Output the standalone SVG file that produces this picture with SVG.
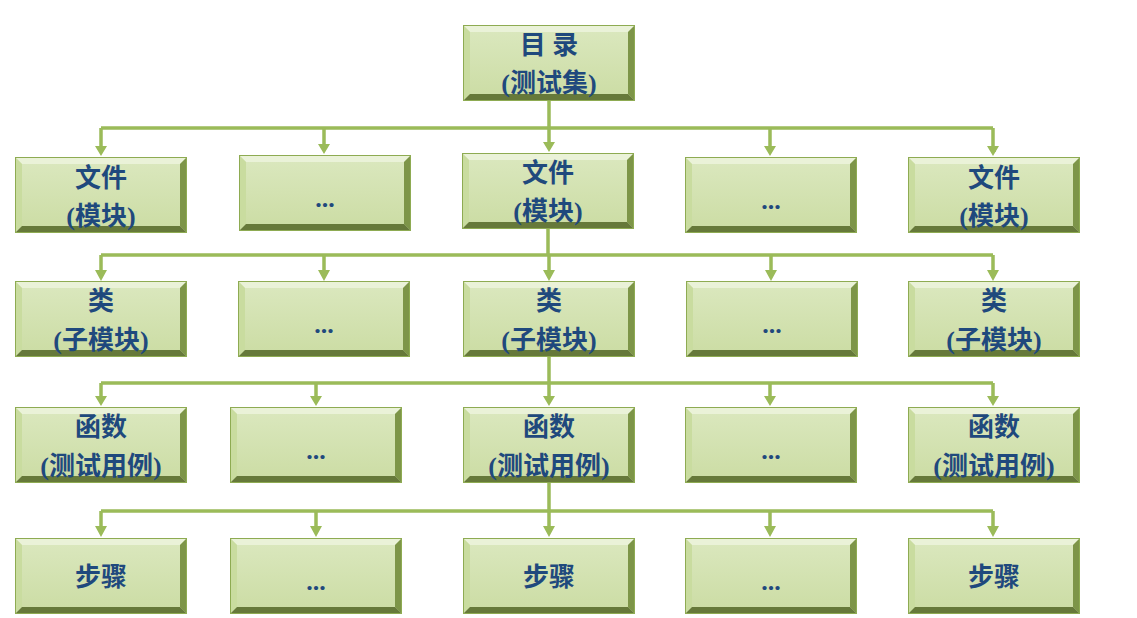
<svg xmlns="http://www.w3.org/2000/svg" xmlns:xlink="http://www.w3.org/1999/xlink" width="1137" height="618" viewBox="0 0 1137 618">
<style>
.t{font-family:"Liberation Serif","Noto Sans CJK SC",serif;font-weight:bold;font-size:26px;fill:#1f497d;text-anchor:middle}
.c{fill:none;stroke:#9bbb59;stroke-width:3.5}
</style>
<defs>
<linearGradient id="g" x1="0" y1="0" x2="0" y2="1"><stop offset="0" stop-color="#dbe8bf"/><stop offset="1" stop-color="#cbdca3"/></linearGradient>
<marker id="a" viewBox="0 0 10 10" refX="5" refY="8" markerWidth="4" markerHeight="4" orient="auto-start-reverse" markerUnits="userSpaceOnUse"><path d="M0,0 L10,0 L5,10 Z" fill="#9bbb59"/></marker>
<g id="box">
<rect x="0" y="0" width="172" height="76" fill="url(#g)"/>
<polygon points="0,0 172,0 165,7 7,7" fill="#eaf2d8"/>
<polygon points="0,0 7,7 7,69 0,76" fill="#c9dc9f"/>
<polygon points="172,0 172,76 165,69 165,7" fill="#7d9548"/>
<polygon points="0,76 172,76 165,69 7,69" fill="#66793a"/>
<rect x="0.5" y="0.5" width="171" height="75" fill="none" stroke="#8eab52" stroke-width="1"/>
</g>
</defs>
<g id="connectors">
<path class="c" d="M549,101 V128 M101,128 H993"/>
<path class="c" d="M101,128 V150 M324,128 V148 M549,128 V146 M770,128 V150 M993,128 V150" marker-end="url(#a)"/>
<path class="c" d="M548,229 V255 M101,255 H993"/>
<path class="c" d="M101,255 V275 M324,255 V275 M549,255 V275 M771,255 V275 M993,255 V275"/>
<path class="c" d="M549,357 V383 M101,383 H993"/>
<path class="c" d="M101,383 V400 M316,383 V400 M549,383 V400 M770,383 V400 M993,383 V400"/>
<path class="c" d="M549,483 V511 M101,511 H993"/>
<path class="c" d="M101,511 V531 M316,511 V531 M549,511 V531 M770,511 V531 M993,511 V531"/>
</g>
<g fill="#9bbb59">
<path d="M95,146 h12 l-6,10 z M318,144 h12 l-6,10 z M543,142 h12 l-6,10 z M764,146 h12 l-6,10 z M987,146 h12 l-6,10 z"/>
<path d="M95,270 h12 l-6,11 z M318,270 h12 l-6,11 z M543,270 h12 l-6,11 z M765,270 h12 l-6,11 z M987,270 h12 l-6,11 z"/>
<path d="M95,396 h12 l-6,10 z M310,396 h12 l-6,10 z M543,396 h12 l-6,10 z M764,396 h12 l-6,10 z M987,396 h12 l-6,10 z"/>
<path d="M95,526 h12 l-6,11 z M310,526 h12 l-6,11 z M543,526 h12 l-6,11 z M764,526 h12 l-6,11 z M987,526 h12 l-6,11 z"/>
</g>
<g id="n0"><use xlink:href="#box" x="463" y="25"/><text class="t" x="549" y="54">目 录</text><text class="t" x="549" y="92">(测试集)</text></g>
<g id="n1"><use xlink:href="#box" x="15" y="157"/><text class="t" x="101" y="187">文件</text><text class="t" x="101" y="225">(模块)</text></g>
<g id="n2"><use xlink:href="#box" x="239" y="155"/><text class="t" x="325" y="207">...</text></g>
<g id="n3"><use xlink:href="#box" x="462" y="153"/><text class="t" x="548" y="182">文件</text><text class="t" x="548" y="220">(模块)</text></g>
<g id="n4"><use xlink:href="#box" x="685" y="157"/><text class="t" x="771" y="209">...</text></g>
<g id="n5"><use xlink:href="#box" x="908" y="157"/><text class="t" x="994" y="187">文件</text><text class="t" x="994" y="225">(模块)</text></g>
<g id="n6"><use xlink:href="#box" x="15" y="281"/><text class="t" x="101" y="310">类</text><text class="t" x="101" y="349">(子模块)</text></g>
<g id="n7"><use xlink:href="#box" x="238" y="281"/><text class="t" x="324" y="333">...</text></g>
<g id="n8"><use xlink:href="#box" x="463" y="281"/><text class="t" x="549" y="310">类</text><text class="t" x="549" y="349">(子模块)</text></g>
<g id="n9"><use xlink:href="#box" x="686" y="281"/><text class="t" x="772" y="333">...</text></g>
<g id="n10"><use xlink:href="#box" x="908" y="281"/><text class="t" x="994" y="310">类</text><text class="t" x="994" y="349">(子模块)</text></g>
<g id="n11"><use xlink:href="#box" x="15" y="407"/><text class="t" x="101" y="436">函数</text><text class="t" x="101" y="475">(测试用例)</text></g>
<g id="n12"><use xlink:href="#box" x="230" y="407"/><text class="t" x="316" y="459">...</text></g>
<g id="n13"><use xlink:href="#box" x="463" y="407"/><text class="t" x="549" y="436">函数</text><text class="t" x="549" y="475">(测试用例)</text></g>
<g id="n14"><use xlink:href="#box" x="685" y="407"/><text class="t" x="771" y="459">...</text></g>
<g id="n15"><use xlink:href="#box" x="908" y="407"/><text class="t" x="994" y="436">函数</text><text class="t" x="994" y="475">(测试用例)</text></g>
<g id="n16"><use xlink:href="#box" x="15" y="538"/><text class="t" x="101" y="586">步骤</text></g>
<g id="n17"><use xlink:href="#box" x="230" y="538"/><text class="t" x="316" y="590">...</text></g>
<g id="n18"><use xlink:href="#box" x="463" y="538"/><text class="t" x="549" y="586">步骤</text></g>
<g id="n19"><use xlink:href="#box" x="685" y="538"/><text class="t" x="771" y="590">...</text></g>
<g id="n20"><use xlink:href="#box" x="908" y="538"/><text class="t" x="994" y="586">步骤</text></g>
</svg>
